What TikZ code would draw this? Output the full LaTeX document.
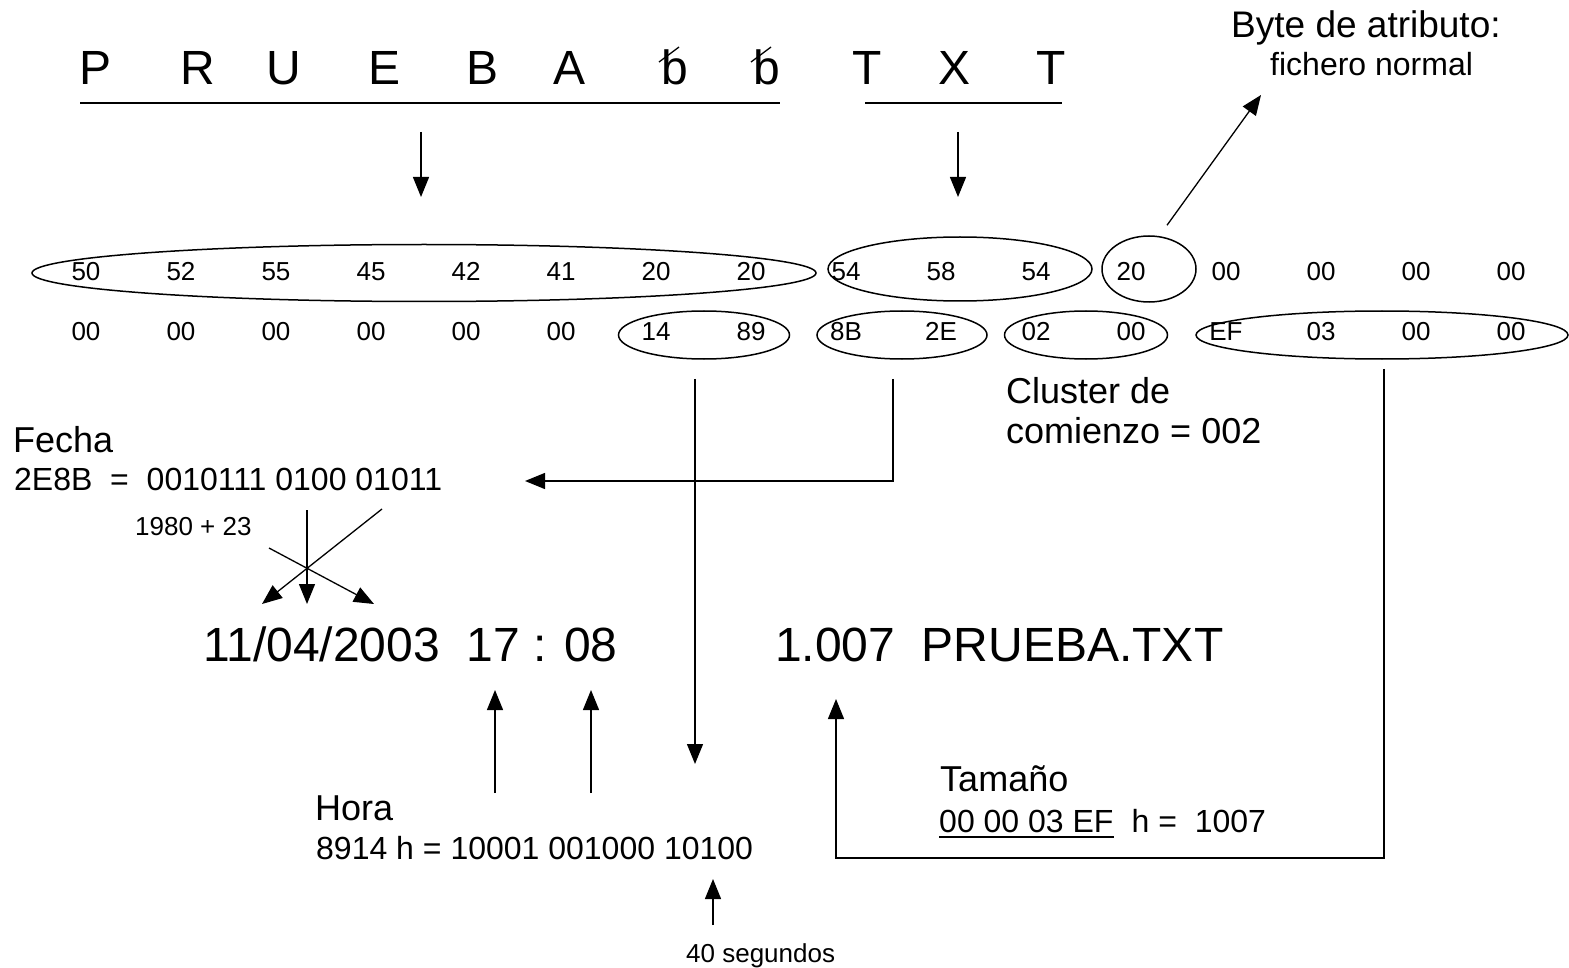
\documentclass[tikz,border=0pt]{standalone}
\usepackage{fontspec}
\setmainfont{Liberation Sans}
\usetikzlibrary{arrows.meta,shapes.geometric}
\tikzset{
    flecha/.style={-{Triangle[length=20pt,width=16pt]}, line width=1.3pt},
    linea/.style={line width=1.3pt},
    grupo/.style={draw, ellipse, line width=1.5pt, inner sep=0pt},
    letra/.style={anchor=base, inner sep=0pt, font=\fontsize{48}{56}\selectfont},
    hexa/.style={anchor=base, inner sep=0pt, font=\fontsize{26}{30}\selectfont},
    titulo/.style={anchor=base west, inner sep=0pt, font=\fontsize{36}{40}\selectfont},
    texto/.style={anchor=base west, inner sep=0pt, font=\fontsize{32}{36}\selectfont},
    nota/.style={anchor=base west, inner sep=0pt, font=\fontsize{26}{30}\selectfont},
    grande/.style={anchor=base west, inner sep=0pt, font=\fontsize{48}{56}\selectfont},
}

\begin{document}
\begin{tikzpicture}[x=1pt,y=-1pt]
\useasboundingbox (0,0) rectangle (1569,968);

% nombre y extension
\foreach \c/\x [count=\i] in {P/96,R/198,U/284,E/385,B/483,A/570,b/675,b/767,T/867,X/954,T/1051}
    \node[letra] (c\i) at (\x,85) {\c};
\draw[linea] ([shift={(-16,-23)}]c7.base) -- ++(20,-15);
\draw[linea] ([shift={(-16,-23)}]c8.base) -- ++(20,-15);
\draw[linea] (80,103) -- (780,103);
\draw[linea] (865,103) -- (1062,103);

\coordinate (n1) at (421,132);
\coordinate (n2) at (421,197);
\coordinate (e1) at (958,132);
\coordinate (e2) at (958,197);
\draw[flecha] (n1) -- (n2);
\draw[flecha] (e1) -- (e2);

% entrada de directorio
\foreach \v [count=\i] in {50,52,55,45,42,41,20,20,54,58,54,20,00,00,00,00}
    \node[hexa] (a\i) at ({86+95*(\i-1)},281) {\v};
\foreach \v [count=\i] in {00,00,00,00,00,00,14,89,8B,2E,02,00,EF,03,00,00}
    \node[hexa] (b\i) at ({86+95*(\i-1)},341) {\v};

\node[grupo, minimum width=784, minimum height=57] (nombre) at (424,273) {};
\node[grupo, minimum width=264, minimum height=64] (ext) at (960,269) {};
\node[grupo, minimum width=94, minimum height=66] (atrib) at (1149,269) {};
\node[grupo, minimum width=171, minimum height=48] (hora) at (704,335) {};
\node[grupo, minimum width=170, minimum height=48] (fecha) at (902,335) {};
\node[grupo, minimum width=163, minimum height=48] (cluster) at (1086,335) {};
\node[grupo, minimum width=372, minimum height=48] (tam) at (1382,335) {};

% atributo
\node[titulo, font=\fontsize{37}{42}\selectfont] (byte) at (1231,38) {Byte de atributo:};
\node[texto] (normal) at (1270,76) {fichero normal};
\coordinate (pbyte) at (1261,95);
\draw[flecha] ([shift={(18,-10)}]atrib.north) -- (pbyte);

\node[titulo] (clus1) at (1006,403) {Cluster de};
\node[titulo] (clus2) at (1006,443) {comienzo = 002};

% fecha
\node[titulo] (tfecha) at (13,452) {Fecha};
\node[texto] (bfecha) at (14,490) {2E8B\ \ =\ \ 0010111 0100 01011};
\node[nota] (anio) at (135,535) {1980 + 23};
\coordinate (pfecha) at (525,481);
\draw[flecha] ([shift={(-9,19)}]fecha.south) |- (pfecha);

\coordinate (x1) at (307,510);
\coordinate (x2) at (307,604);
\coordinate (x3) at (382,509);
\coordinate (x4) at (262,604);
\coordinate (x5) at (269,548);
\coordinate (x6) at (374,604);
\draw[flecha] (x1) -- (x2);
\draw[flecha] (x3) -- (x4);
\draw[flecha] (x5) -- (x6);

% resultado
\node[grande] (fh) at (203,661) {11/04/2003\ \ 17 : 08};
\node[grande] (fich) at (775,661) {1.007\ \ PRUEBA.TXT};

% hora
\coordinate (phora) at (695,764);
\draw[flecha] ([shift={(-9,19)}]hora.south) -- (phora);
\node[titulo] (thora) at (315,820) {Hora};
\node[texto] (bhora) at (316,859) {8914 h = 10001 001000 10100};
\coordinate (h1) at (495,793);
\coordinate (h2) at (495,690);
\coordinate (h3) at (591,793);
\coordinate (h4) at (591,690);
\draw[flecha] (h1) -- (h2);
\draw[flecha] (h3) -- (h4);
\coordinate (s1) at (713,925);
\coordinate (s2) at (713,879);
\draw[flecha] (s1) -- (s2);
\node[nota] (seg) at (686,962) {40 segundos};

% tamano
\node[titulo] (ttam) at (940,791) {Tamaño};
\node[texto] (htam) at (939,832) {00 00 03 EF};
\node[texto] (vtam) at (htam.base east) {\ \ h =\ \ 1007};
\draw[line width=2.5pt] ([shift={(0,5)}]htam.base west) -- ([shift={(0,5)}]htam.base east);
\coordinate (ptam) at (836,699);
\draw[flecha] ([shift={(2,9)}]tam.south) |- (836,858) -- (ptam);
\end{tikzpicture}
\end{document}
